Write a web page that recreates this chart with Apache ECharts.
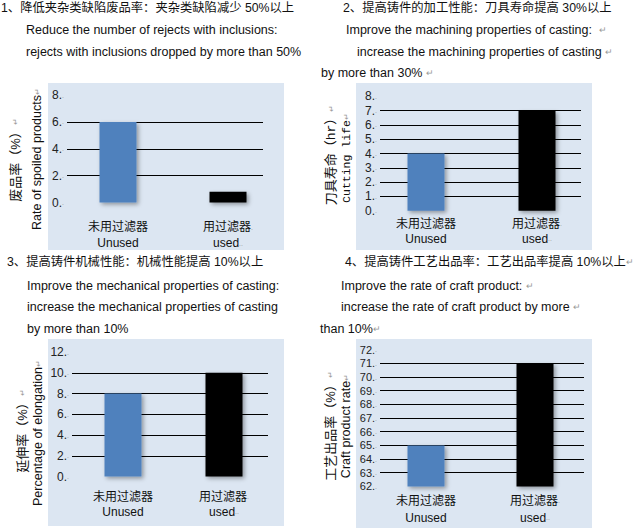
<!DOCTYPE html>
<html><head><meta charset="utf-8">
<script src="https://cdn.jsdelivr.net/npm/echarts@6/dist/echarts.min.js"></script>
<style>html,body{margin:0;padding:0;background:#fff}#c{width:638px;height:532px}</style>
</head><body><div id="c"></div>
<script>
// ---------- data ----------
const categoriesCn = ['未用过滤器', '用过滤器'];
const categoriesEn = ['Unused', 'used'];
const rejectRate  = [6, 0.8];   // 废品率 (%)
const cuttingLife = [4, 7];     // 刀具寿命 (hr)
const elongation  = [8, 10];    // 延伸率 (%)
const craftRate   = [65, 71];   // 工艺出品率 (%)
const axisRanges = [[0, 8, 2], [0, 8, 1], [0, 12, 2], [62, 72, 1]]; // min, max, interval
const yTitlesCn = ['废品率（%）↵', '刀具寿命（hr）↵', '延伸率（%）↵', '工艺出品率（%）↵'];
const yTitlesEn = ['Rate of spoiled products↵', 'Cutting life↵', 'Percentage of elongation↵', 'Craft product rate↵'];
const headers1 = ['1、降低夹杂类缺陷废品率：夹杂类缺陷减少 50%以上', 'Reduce the number of rejects with inclusions:', 'rejects with inclusions dropped by more than 50%'];
const headers2 = ['2、提高铸件的加工性能：刀具寿命提高 30%以上', 'Improve the machining properties of casting:  ↵', 'increase the machining properties of casting ↵', 'by more than 30% ↵'];
const headers3 = ['3、提高铸件机械性能：机械性能提高 10%以上', 'Improve the mechanical properties of casting:', 'increase the mechanical properties of casting', 'by more than 10%'];
const headers4 = ['4、提高铸件工艺出品率：工艺出品率提高 10%以上↵', 'Improve the rate of craft product: ↵', 'increase the rate of craft product by more ↵', 'than 10%↵'];

// ---------- layout / style ----------
const barColors = ['#4F81BD', '#000000'];
const SANS = '"Liberation Sans", Arial, "Noto Sans CJK SC", sans-serif';
const MONO = '"Liberation Mono", "DejaVu Sans Mono", "Noto Sans CJK SC", monospace';
const panels = [
  { data: rejectRate,  box: [48, 83, 236, 167],  A: { left: 67,  top: 95,    width: 196, height: 107.5 }, B: { left: 63,    width: 220 }, margin: 16.5, lh: 16, yFont: 12,
    tCn: [15, 160], tEn: [37, 159], enFont: SANS },
  { data: cuttingLife, box: [356, 83, 236, 167], A: { left: 380, top: 96.4,  width: 201, height: 114.3 }, B: { left: 370.5, width: 222 }, margin: 5.5,  lh: 15, yFont: 12,
    tCn: [331, 155], tEn: [346, 158], enFont: MONO },
  { data: elongation,  box: [48, 339, 236, 187], A: { left: 72,  top: 352,   width: 196, height: 124.5 }, B: { left: 72.5,  width: 202 }, margin: 12.5, lh: 15, yFont: 12,
    tCn: [22, 431], tEn: [38, 433], enFont: SANS },
  { data: craftRate,   box: [356, 339, 236, 189], A: { left: 380, top: 349.7, width: 204, height: 136.7 }, B: { left: 371.5, width: 218 }, margin: 6,    lh: 17, yFont: 11,
    tCn: [330, 426], tEn: [346, 426], enFont: SANS }
];
const headerPos = [
  [[1, 8], [26, 30], [26, 52]],
  [[343, 8], [346, 30], [357, 52], [321, 73]],
  [[7, 262], [27, 286], [27, 307], [27, 329]],
  [[345, 262], [341, 286], [341, 307], [320, 329]]
];
const headerSets = [headers1, headers2, headers3, headers4];

function richify(s) {
  return s.split('↵').map(p => p ? '{t|' + p + '}' : '').join('{r|↵}');
}

const grids = [], xAxes = [], yAxes = [], series = [], graphics = [];
panels.forEach((p, i) => {
  const [mn, mx, iv] = axisRanges[i];
  graphics.push({ type: 'rect', z: -10, shape: { x: p.box[0], y: p.box[1], width: p.box[2], height: p.box[3] }, style: { fill: '#DCE6F2' } });
  grids.push({ left: p.A.left, top: p.A.top, width: p.A.width, height: p.A.height });
  const gA = grids.length - 1;
  grids.push({ left: p.B.left, top: p.A.top, width: p.B.width, height: p.A.height });
  const gB = grids.length - 1;
  xAxes.push({ type: 'category', gridIndex: gA, show: false, data: categoriesCn });
  yAxes.push({
    type: 'value', gridIndex: gA, min: mn, max: mx, interval: iv,
    axisLine: { show: false }, axisTick: { show: false },
    axisLabel: { margin: 3, formatter: v => '{v|' + v + '.}{d|.}',
      rich: { v: { fontSize: p.yFont, fontFamily: SANS, color: '#222' }, d: { fontSize: 7, color: '#999' } } },
    splitLine: { show: true, showMinLine: false, showMaxLine: false, lineStyle: { color: '#000', width: 1 } }
  });
  xAxes.push({
    type: 'category', gridIndex: gB, data: categoriesCn,
    axisLine: { show: false }, axisTick: { show: false },
    axisLabel: { margin: p.margin, interval: 0,
      formatter: (val, idx) => '{cn|' + val + '}' + (idx === 1 ? '{d|.}' : '') + '\n{en|' + categoriesEn[idx] + '}' + (idx === 1 ? '{d|..}' : ''),
      rich: { cn: { fontSize: 12, fontFamily: SANS, color: '#111', lineHeight: p.lh },
              en: { fontSize: 12, fontFamily: SANS, color: '#111', lineHeight: p.lh },
              d: { fontSize: 7, color: '#999', lineHeight: p.lh } } }
  });
  yAxes.push({ type: 'value', gridIndex: gB, min: mn, max: mx, interval: iv, show: false, splitLine: { show: false } });
  series.push({
    type: 'bar', xAxisIndex: xAxes.length - 1, yAxisIndex: yAxes.length - 1, barWidth: 37,
    data: p.data.map((v, k) => ({ value: v, itemStyle: { color: barColors[k] } })),
    itemStyle: { shadowBlur: 4, shadowColor: 'rgba(0,0,0,0.35)', shadowOffsetX: 2, shadowOffsetY: 2 },
    silent: true
  });
  graphics.push({ type: 'text', x: p.tCn[0], y: p.tCn[1], rotation: Math.PI / 2,
    style: { text: richify(yTitlesCn[i]), align: 'center', verticalAlign: 'middle',
      rich: { t: { fontSize: 13, fontFamily: i === 1 ? MONO : SANS, fill: '#111' }, r: { fontSize: 8, fill: '#999' } } } });
  graphics.push({ type: 'text', x: p.tEn[0], y: p.tEn[1], rotation: Math.PI / 2,
    style: { text: richify(yTitlesEn[i]), align: 'center', verticalAlign: 'middle',
      rich: { t: { fontSize: i === 1 ? 11.5 : 12.5, fontFamily: p.enFont, fill: '#111' }, r: { fontSize: 8, fill: '#999' } } } });
  headerSets[i].forEach((line, k) => {
    const pos = headerPos[i][k];
    graphics.push({ type: 'text', x: pos[0], y: pos[1],
      style: { text: richify(line), verticalAlign: 'middle', align: 'left',
        rich: { t: { fontSize: k === 0 ? 12.3 : 12.5, fontFamily: SANS, fill: '#111' }, r: { fontSize: 9, fill: '#999' } } } });
  });
});

const chart = echarts.init(document.getElementById('c'), null, { renderer: 'svg' });
chart.setOption({
  animation: false,
  backgroundColor: '#fff',
  graphic: graphics,
  grid: grids, xAxis: xAxes, yAxis: yAxes, series: series
});
</script></body></html>
